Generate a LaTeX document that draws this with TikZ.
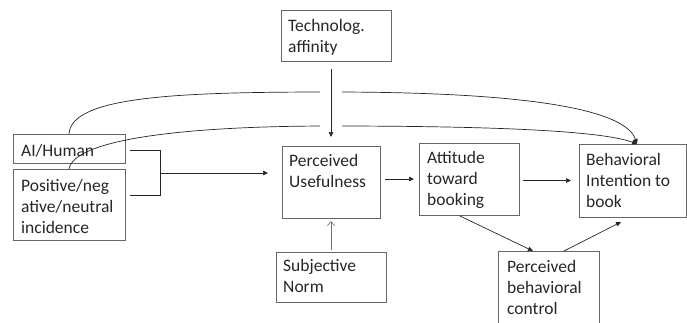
\documentclass[tikz,border=0pt]{standalone}
\usepackage{fontspec}
\setmainfont{Carlito}
\usetikzlibrary{arrows.meta}
\begin{document}
\begin{tikzpicture}[x=1pt,y=-1pt,
 box/.style={draw=black!60, line width=0.8pt, inner sep=0pt, outer sep=0pt},
 txt/.style={anchor=north west, inner sep=0pt, align=left, font=\fontsize{17.5}{21}\selectfont, text=black!85},
 con/.style={draw=black!85, line width=0.7pt},
 arr/.style={con, -{Triangle[length=5pt,width=4.5pt]}},
 openarr/.style={draw=black!55, line width=0.7pt, -{Straight Barb[length=4pt,width=7pt]}}]
\useasboundingbox (0,0) rectangle (687,322);
\clip (0,0) rectangle (687,322);
% boxes
\node[box, minimum width=110pt, minimum height=51pt] (tech) at (336,35.5) {};
\node[box, minimum width=112pt, minimum height=29pt] (ai) at (69,148.5) {};
\node[box, minimum width=112pt, minimum height=71pt] (pos) at (69,204.5) {};
\node[box, minimum width=98pt, minimum height=72pt] (pu) at (331,182) {};
\node[box, minimum width=100pt, minimum height=72pt] (att) at (469,179) {};
\node[box, minimum width=107pt, minimum height=73pt] (bi) at (632.5,180.5) {};
\node[box, minimum width=110pt, minimum height=50pt] (sn) at (331,277) {};
\node[box, minimum width=101pt, minimum height=84pt] (pbc) at (548.5,293) {};
% texts
\node[txt] (tech-t) at ([shift={(7,8.5)}]tech.north west) {\rule{0pt}{13pt}Technolog.\\affinity};
\node[txt] (ai-t) at ([shift={(8,9)}]ai.north west) {\rule{0pt}{13pt}AI/Human};
\node[txt] (pos-t) at ([shift={(8,9.5)}]pos.north west) {\rule{0pt}{13pt}Positive/neg\\ative/neutral\\incidence};
\node[txt] (pu-t) at ([shift={(7,7.5)}]pu.north west) {\rule{0pt}{13pt}Perceived\\Usefulness};
\node[txt] (att-t) at ([shift={(8,7.5)}]att.north west) {\rule{0pt}{13pt}Attitude\\toward\\booking};
\node[txt] (bi-t) at ([shift={(7,8)}]bi.north west) {\rule{0pt}{13pt}Behavioral\\Intention to\\book};
\node[txt] (sn-t) at ([shift={(7,6)}]sn.north west) {\rule{0pt}{13pt}Subjective\\Norm};
\node[txt] (pbc-t) at ([shift={(9,8)}]pbc.north west) {\rule{0pt}{13pt}Perceived\\behavioral\\control};
% long curves
\draw[arr] (ai.north) .. controls (71,96) and (180,92) .. (331,92)
  .. controls (520,92) and (625,108) .. ([shift={(4.5,0)}]bi.north);
\draw[arr] (pos.north) .. controls (74,140) and (180,126) .. (331,126)
  .. controls (480,126) and (600,130) .. ([shift={(4.5,0)}]bi.north);
% technolog arrow with gap
\draw[arr, preaction={draw=white, line width=22pt, -}, shorten <=8pt, shorten >=9pt] (pu.north |- tech.south) -- (pu.north);
% bracket
\coordinate (b1) at ([shift={(5,1.5)}]ai.east);
\coordinate (b2) at (160,150);
\coordinate (b3) at (160,195);
\coordinate (b4) at (130,195);
\coordinate (bm) at (160,173);
\draw[con] (b1) -- (b2) -- (b3) -- (b4);
\draw[arr, shorten >=14pt] (bm) -- (bm -| pu.west);
% other connectors
\draw[arr, shorten <=5pt, shorten >=5pt] (pu.east |- att.west) -- (att.west);
\draw[arr, shorten <=4pt, shorten >=8pt] (att.east |- bi.west) -- (bi.west);
\draw[openarr, shorten <=2pt, shorten >=3pt] (sn.north) -- (pu.south);
\draw[arr] ([shift={(-9,1)}]att.south) -- ([shift={(-15.5,0)}]pbc.north);
\draw[arr] ([shift={(15.5,0)}]pbc.north) -- ([shift={(-11.5,5)}]bi.south);
\end{tikzpicture}
\end{document}
